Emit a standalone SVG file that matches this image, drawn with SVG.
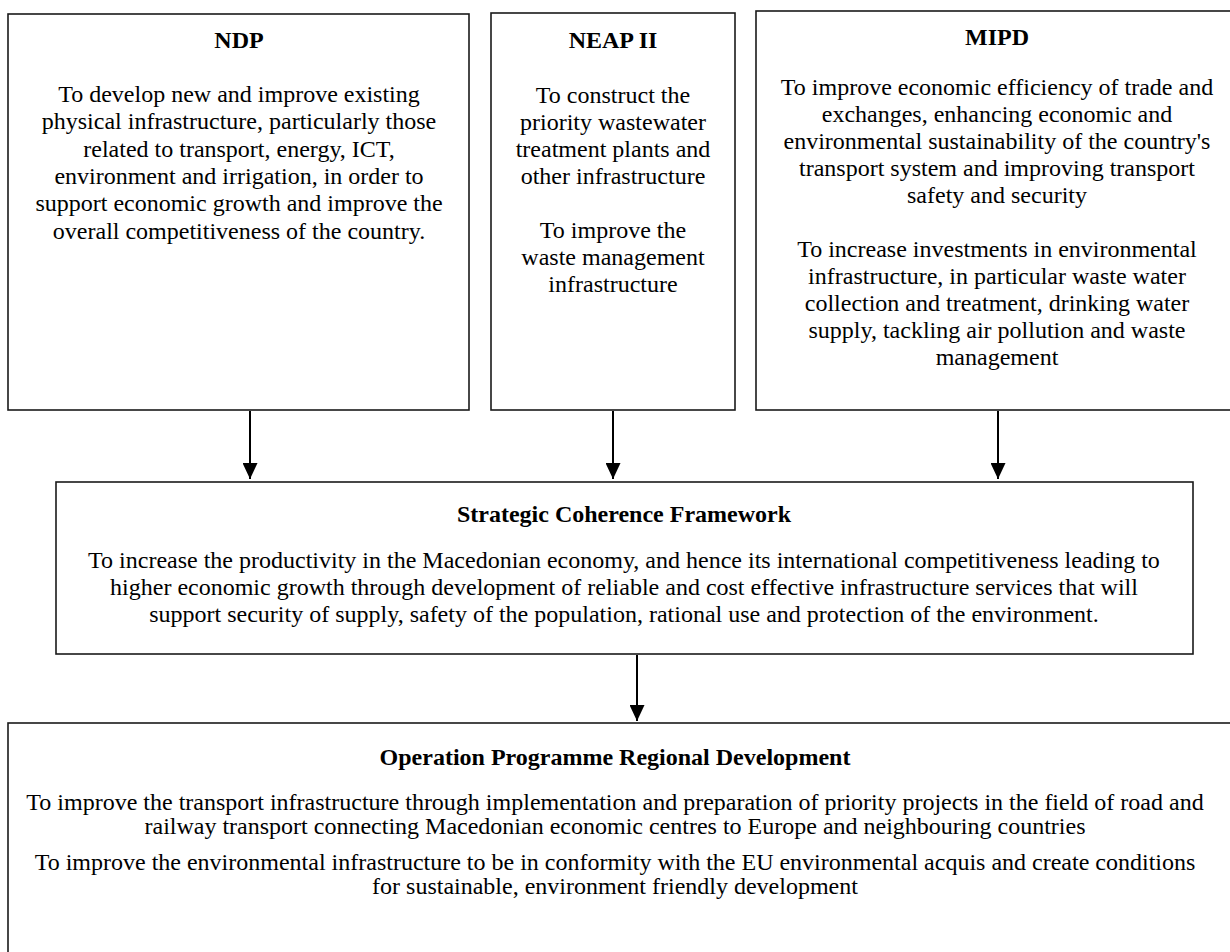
<svg xmlns="http://www.w3.org/2000/svg" width="1230" height="952" viewBox="0 0 1230 952">
<defs>
<marker id="arrow" markerWidth="16" markerHeight="15" refX="16" refY="7.5" orient="auto" markerUnits="userSpaceOnUse" viewBox="0 0 16 15">
<path d="M0,0 L16,7.5 L0,15 Z" fill="#000"/>
</marker>
<style>
.box{fill:#fff;stroke:#1a1a1a;stroke-width:1.6}
.t{font-family:"Liberation Serif","Times New Roman",serif;font-size:24px;fill:#000;text-anchor:middle}
.b{font-weight:bold}
.c{stroke:#000;stroke-width:2;fill:none}
</style>
</defs>
<rect width="1230" height="952" fill="#fff"/>

<g id="ndp">
<rect class="box" x="8" y="14" width="461" height="396"/>
<text class="t b" x="239" y="48">NDP</text>
<text class="t" x="239" y="102">To develop new and improve existing</text>
<text class="t" x="239" y="129.3">physical infrastructure, particularly those</text>
<text class="t" x="239" y="156.6">related to transport, energy, ICT,</text>
<text class="t" x="239" y="183.9">environment and irrigation, in order to</text>
<text class="t" x="239" y="211.2">support economic growth and improve the</text>
<text class="t" x="239" y="238.5">overall competitiveness of the country.</text>
</g>

<g id="neap">
<rect class="box" x="491" y="13" width="244" height="397"/>
<text class="t b" x="613" y="48">NEAP II</text>
<text class="t" x="613" y="103">To construct the</text>
<text class="t" x="613" y="130">priority wastewater</text>
<text class="t" x="613" y="157">treatment plants and</text>
<text class="t" x="613" y="184">other infrastructure</text>
<text class="t" x="613" y="238">To improve the</text>
<text class="t" x="613" y="265">waste management</text>
<text class="t" x="613" y="292">infrastructure</text>
</g>

<g id="mipd">
<rect class="box" x="756" y="11" width="482" height="399"/>
<text class="t b" x="997" y="45">MIPD</text>
<text class="t" x="997" y="95">To improve economic efficiency of trade and</text>
<text class="t" x="997" y="122">exchanges, enhancing economic and</text>
<text class="t" x="997" y="149">environmental sustainability of the country's</text>
<text class="t" x="997" y="176">transport system and improving transport</text>
<text class="t" x="997" y="203">safety and security</text>
<text class="t" x="997" y="257">To increase investments in environmental</text>
<text class="t" x="997" y="284">infrastructure, in particular waste water</text>
<text class="t" x="997" y="311">collection and treatment, drinking water</text>
<text class="t" x="997" y="338">supply, tackling air pollution and waste</text>
<text class="t" x="997" y="365">management</text>
</g>

<g id="scf">
<rect class="box" x="56" y="482" width="1137" height="172"/>
<text class="t b" x="624" y="522">Strategic Coherence Framework</text>
<text class="t" x="624" y="568">To increase the productivity in the Macedonian economy, and hence its international competitiveness leading to</text>
<text class="t" x="624" y="595">higher economic growth through development of reliable and cost effective infrastructure services that will</text>
<text class="t" x="624" y="622">support security of supply, safety of the population, rational use and protection of the environment.</text>
</g>

<g id="oprd">
<rect class="box" x="8" y="723" width="1232" height="260"/>
<text class="t b" x="615" y="765">Operation Programme Regional Development</text>
<text class="t" x="615" y="810">To improve the transport infrastructure through implementation and preparation of priority projects in the field of road and</text>
<text class="t" x="615" y="834">railway transport connecting Macedonian economic centres to Europe and neighbouring countries</text>
<text class="t" x="615" y="870">To improve the environmental infrastructure to be in conformity with the EU environmental acquis and create conditions</text>
<text class="t" x="615" y="894">for sustainable, environment friendly development</text>
</g>

<g id="connectors">
<line class="c" x1="250" y1="411" x2="250" y2="479" marker-end="url(#arrow)"/>
<line class="c" x1="613" y1="411" x2="613" y2="479" marker-end="url(#arrow)"/>
<line class="c" x1="998" y1="411" x2="998" y2="479" marker-end="url(#arrow)"/>
<line class="c" x1="637" y1="655" x2="637" y2="721" marker-end="url(#arrow)"/>
</g>
</svg>
